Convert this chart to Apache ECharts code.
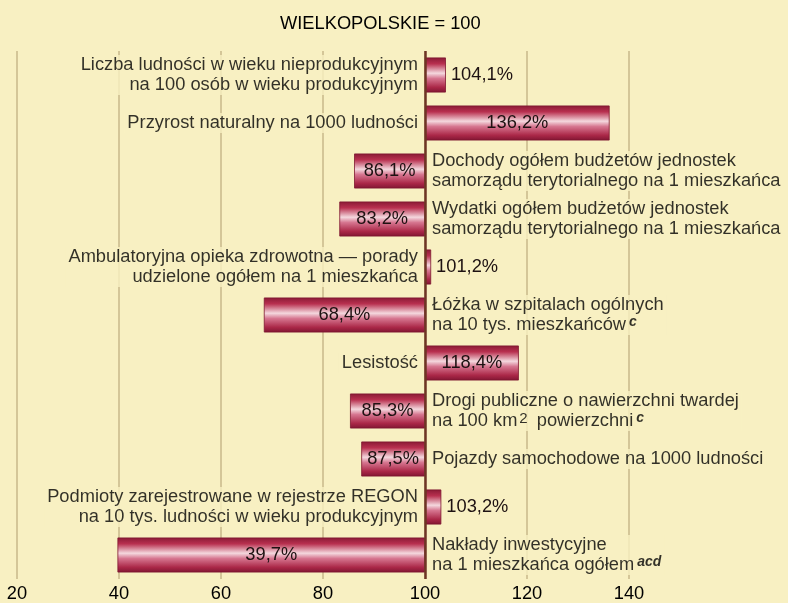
<!DOCTYPE html>
<html>
<head>
<meta charset="utf-8">
<script src="https://cdn.jsdelivr.net/npm/echarts@6/dist/echarts.min.js"></script>
<style>
  html, body { margin: 0; padding: 0; background: #f8f0c2; }
  #chart { width: 788px; height: 603px; }
</style>
</head>
<body>
<div id="chart"></div>
<script>
  // opisy wskaznikow (od gory)
  const descriptions = [
    'Liczba ludności w wieku nieprodukcyjnym\nna 100 osób w wieku produkcyjnym',
    'Przyrost naturalny na 1000 ludności',
    'Dochody ogółem budżetów jednostek\nsamorządu terytorialnego na 1 mieszkańca',
    'Wydatki ogółem budżetów jednostek\nsamorządu terytorialnego na 1 mieszkańca',
    'Ambulatoryjna opieka zdrowotna — porady\nudzielone ogółem na 1 mieszkańca',
    'Łóżka w szpitalach ogólnych\nna 10 tys. mieszkańców{sup|c}',
    'Lesistość',
    'Drogi publiczne o nawierzchni twardej\nna 100 km{num|2} powierzchni{sup|c}',
    'Pojazdy samochodowe na 1000 ludności',
    'Podmioty zarejestrowane w rejestrze REGON\nna 10 tys. ludności w wieku produkcyjnym',
    'Nakłady inwestycyjne\nna 1 mieszkańca ogółem{sup|acd}'
  ];
  // wielkopolskie = 100
  const values = [104.1, 136.2, 86.1, 83.2, 101.2, 68.4, 118.4, 85.3, 87.5, 103.2, 39.7];
  const baseline = 100;
  const xTicks = [20, 140, 20]; // min, max, interval

  const bg = '#f8f0c2';
  const font = "'Liberation Sans', Arial, sans-serif";
  const fs = 18.3;
  const ink = '#000';
  const fmt = v => v.toFixed(1).replace('.', ',') + '%';

  const barColor = new echarts.graphic.LinearGradient(0, 0, 0, 1, [
    { offset: 0, color: '#8a1a35' },
    { offset: 0.18, color: '#b8304f' },
    { offset: 0.45, color: '#f4d8de' },
    { offset: 0.6, color: '#d67690' },
    { offset: 0.85, color: '#ab2848' },
    { offset: 1, color: '#801532' }
  ]);

  const baseData = values.map(v => Math.min(v, baseline));
  const barData = values.map(v => {
    const len = Math.abs(v - baseline);
    return {
      value: len,
      label: { position: (v < baseline || len > 10) ? 'inside' : 'right' }
    };
  });
  const descData = values.map((v, i) => ({
    value: [baseline, i],
    label: { position: v >= baseline ? 'left' : 'right' }
  }));

  const myChart = echarts.init(document.getElementById('chart'));
  myChart.setOption({
    backgroundColor: bg,
    animation: false,
    title: {
      text: 'WIELKOPOLSKIE = 100',
      left: 275,
      top: 10,
      textStyle: { fontFamily: font, fontSize: fs, fontWeight: 'normal', color: ink }
    },
    grid: { left: 17, right: 159, top: 51, bottom: 24 },
    xAxis: {
      type: 'value',
      min: xTicks[0],
      max: xTicks[1],
      interval: xTicks[2],
      axisLine: { show: false },
      axisTick: { show: false },
      axisLabel: { fontFamily: font, fontSize: fs, color: ink, margin: 6 },
      splitLine: { lineStyle: { color: '#c9b98a', width: 1.5 } }
    },
    yAxis: {
      type: 'category',
      inverse: true,
      data: descriptions,
      axisLine: { show: false },
      axisTick: { show: false },
      axisLabel: { show: false },
      splitLine: { show: false }
    },
    series: [
      {
        type: 'bar',
        stack: 'w',
        barWidth: 35,
        silent: true,
        itemStyle: { color: 'transparent' },
        data: baseData
      },
      {
        type: 'bar',
        stack: 'w',
        barWidth: 35,
        itemStyle: { color: barColor, borderColor: '#7e1630', borderWidth: 0.8 },
        label: {
          show: true,
          distance: 5,
          fontFamily: font,
          fontSize: fs,
          color: '#1e1212',
          formatter: p => fmt(values[p.dataIndex])
        },
        data: barData,
        markLine: {
          silent: true,
          symbol: 'none',
          label: { show: false },
          lineStyle: { color: '#6e3524', width: 2.5, type: 'solid' },
          data: [{ xAxis: baseline }]
        }
      },
      {
        type: 'scatter',
        symbolSize: 0,
        silent: true,
        z: 5,
        label: {
          show: true,
          distance: 4,
          fontFamily: font,
          fontSize: fs,
          lineHeight: 20,
          color: ink,
          backgroundColor: bg,
          padding: [0, 3],
          formatter: p => descriptions[p.dataIndex],
          rich: {
            sup: { fontFamily: font, fontSize: 14, fontStyle: 'italic', fontWeight: 'bold', color: ink, verticalAlign: 'top', lineHeight: 14, padding: [0, 0, 0, 3] },
            num: { fontFamily: font, fontSize: 15, color: ink, verticalAlign: 'top', lineHeight: 14, padding: [0, 4, 0, 2] }
          }
        },
        data: descData
      }
    ]
  });
</script>
</body>
</html>
